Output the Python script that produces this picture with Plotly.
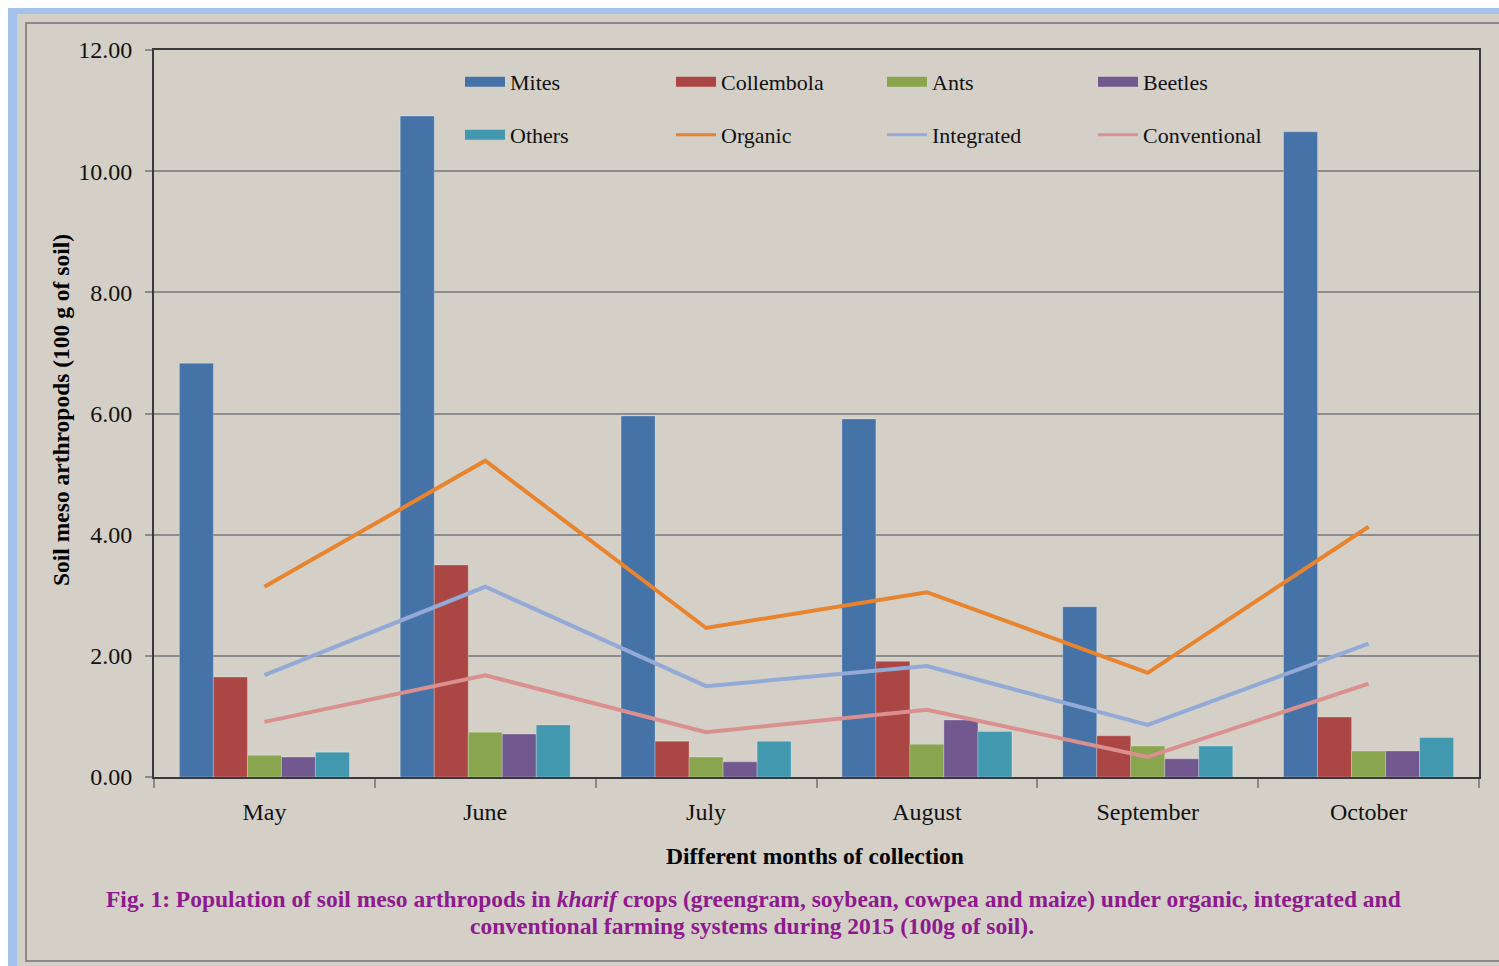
import plotly.graph_objects as go

# Collection months (kharif season 2015)
months = ["May", "June", "July", "August", "September", "October"]

# Arthropod groups (bars), individuals per 100 g of soil
mites = [6.83, 10.91, 5.96, 5.91, 2.81, 10.65]
collembola = [1.65, 3.50, 0.59, 1.91, 0.68, 0.99]
ants = [0.36, 0.74, 0.33, 0.54, 0.51, 0.43]
beetles = [0.33, 0.71, 0.25, 0.94, 0.30, 0.43]
others = [0.41, 0.86, 0.59, 0.75, 0.51, 0.65]

# Farming systems (lines)
organic = [3.14, 5.22, 2.46, 3.05, 1.72, 4.13]
integrated = [1.68, 3.14, 1.50, 1.83, 0.86, 2.20]
conventional = [0.91, 1.68, 0.74, 1.11, 0.33, 1.54]

y_ticks = [0, 2, 4, 6, 8, 10, 12]

FONT = "Liberation Serif"
W, H = 1499, 966
L, R, T, B = 154, 20, 50, 189
PW, PH = W - L - R, H - T - B


def px(x):
    return (x - L) / PW


def py(y):
    return (H - B - y) / PH


bar_series = [
    ("Mites", mites, "#4572A7"),
    ("Collembola", collembola, "#AA4643"),
    ("Ants", ants, "#89A54E"),
    ("Beetles", beetles, "#71588F"),
    ("Others", others, "#4198AF"),
]
line_series = [
    ("Organic", organic, "#E8832E"),
    ("Integrated", integrated, "#93AAD6"),
    ("Conventional", conventional, "#D9908F"),
]

fig = go.Figure()

for name, vals, col in bar_series:
    fig.add_trace(go.Bar(
        x=months, y=vals, name=name, showlegend=False,
        marker=dict(color=col, line=dict(color="rgba(255,255,255,0.25)", width=1)),
    ))

for name, vals, col in line_series:
    fig.add_trace(go.Scatter(
        x=months, y=vals, name=name, mode="lines", showlegend=False,
        line=dict(color=col, width=4),
    ))

# Legend keys: wide swatches for the bar groups, thin strokes for the lines
legend_rows = ["legend"] * 4 + ["legend2"] * 4
keys = [(n, c, 10) for n, _, c in bar_series] + [(n, c, 3) for n, _, c in line_series]
for (name, col, w), lg in zip(keys, legend_rows):
    fig.add_trace(go.Scatter(
        x=[None], y=[None], name=name, mode="lines", legend=lg,
        line=dict(color=col, width=w), hoverinfo="skip",
    ))

legend_common = dict(
    orientation="h", xanchor="left", yanchor="middle",
    entrywidth=156, entrywidthmode="pixels", itemwidth=40,
    bgcolor="rgba(0,0,0,0)", font=dict(family=FONT, size=22, color="#111"),
    traceorder="normal",
)

shapes = [
    # page border band
    dict(type="rect", xref="paper", yref="paper", layer="below",
         x0=px(8), x1=px(1560), y0=py(8), y1=py(1020),
         fillcolor="#A3C3EA", line=dict(width=0)),
    dict(type="rect", xref="paper", yref="paper", layer="below",
         x0=px(17), x1=px(1560), y0=py(14), y1=py(1020),
         fillcolor="#D4D0C8", line=dict(width=0)),
    # chart frame
    dict(type="rect", xref="paper", yref="paper", layer="below",
         x0=px(26), x1=px(1540), y0=py(23), y1=py(961),
         fillcolor="rgba(0,0,0,0)", line=dict(color="#8A8A8A", width=2)),
]

caption_font = dict(family=FONT, size=23.5, color="#8E1A8E")
annotations = [
    dict(text="<b>Different months of collection</b>", xref="paper", yref="paper",
         x=px(815), y=py(856), showarrow=False, xanchor="center", yanchor="middle",
         font=dict(family=FONT, size=23.5, color="#000")),
    dict(text="<b>Soil meso arthropods (100 g of soil)</b>", xref="paper", yref="paper",
         x=px(61), y=py(410), showarrow=False, textangle=-90,
         xanchor="center", yanchor="middle",
         font=dict(family=FONT, size=23.5, color="#000")),
    dict(text="<b>Fig. 1: Population of soil meso arthropods in <i>kharif</i> crops "
              "(greengram, soybean, cowpea and maize) under organic, integrated and</b>",
         xref="paper", yref="paper", x=px(753), y=py(899), showarrow=False,
         xanchor="center", yanchor="middle", font=caption_font),
    dict(text="<b>conventional farming systems during 2015 (100g of soil).</b>",
         xref="paper", yref="paper", x=px(752), y=py(926), showarrow=False,
         xanchor="center", yanchor="middle", font=caption_font),
]

fig.update_layout(
    width=W, height=H,
    margin=dict(l=L, r=R, t=T, b=B, pad=0, autoexpand=False),
    paper_bgcolor="#FFFFFF", plot_bgcolor="#D4D0C8",
    barmode="group", bargap=0.23, bargroupgap=0,
    font=dict(family=FONT, color="#111"),
    legend=dict(x=px(460), y=py(82), **legend_common),
    legend2=dict(x=px(460), y=py(135), **legend_common),
    shapes=shapes, annotations=annotations,
    xaxis=dict(
        categoryorder="array", categoryarray=months,
        showline=True, linecolor="#3A3A3A", linewidth=2, mirror=True,
        ticks="outside", tickson="boundaries", ticklen=9, tickcolor="#8A8A8A",
        tickwidth=2, ticklabelstandoff=12, showgrid=False,
        tickfont=dict(family=FONT, size=24, color="#111"),
    ),
    yaxis=dict(
        range=[0, 12], tickvals=y_ticks, ticktext=[f"{v:.2f}" for v in y_ticks],
        showline=True, linecolor="#3A3A3A", linewidth=2, mirror=True,
        ticks="outside", ticklen=7, tickcolor="#8A8A8A", tickwidth=2,
        ticklabelstandoff=8,
        showgrid=True, gridcolor="#8C8C8C", gridwidth=1.5, zeroline=False,
        tickfont=dict(family=FONT, size=24, color="#111"),
    ),
)

fig.write_html("out.html")
